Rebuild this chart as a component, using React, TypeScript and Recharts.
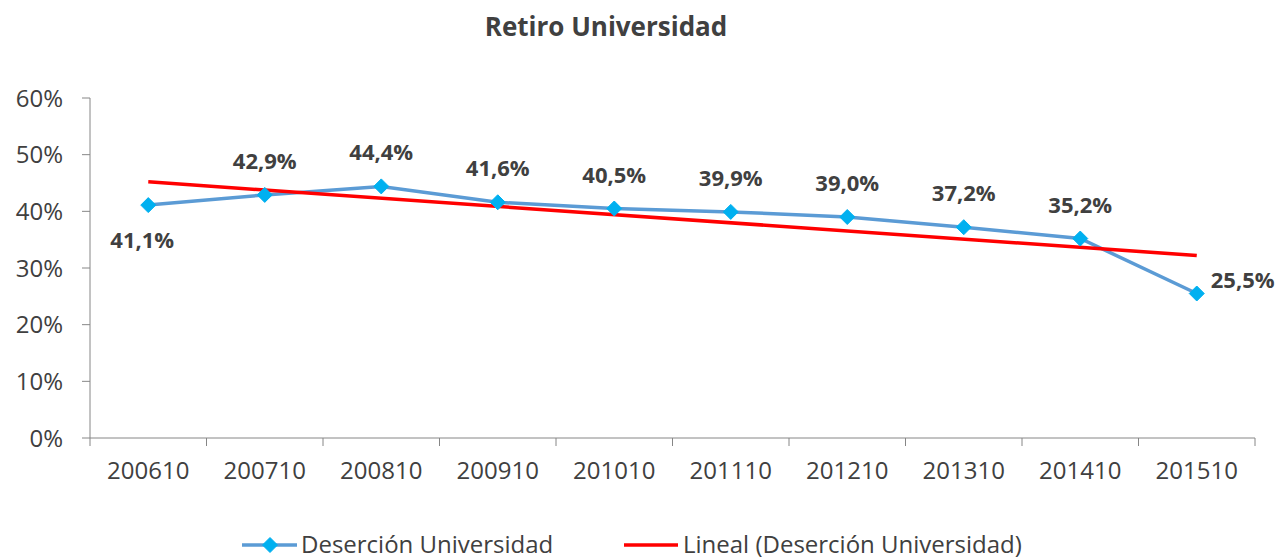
import React from 'react'
import { LineChart, Line, XAxis, YAxis, Legend, LabelList } from 'recharts'

const periods = ['200610', '200710', '200810', '200910', '201010', '201110', '201210', '201310', '201410', '201510']
const desercion = [41.1, 42.9, 44.4, 41.6, 40.5, 39.9, 39.0, 37.2, 35.2, 25.5]
// linear trend, read at its two ends (first and last period)
const trendStart = 45.2
const trendEnd = 32.2
const yTicks = [0, 10, 20, 30, 40, 50, 60]

const FONT = '"Open Sans", sans-serif'
const AXIS = '#868686'
const TEXT = '#404040'
const BLUE = '#5B9BD5'
const DIAMOND = '#00B0F0'
const RED = '#FF0000'

const data = periods.map((p, i) => ({
  period: p,
  desercion: desercion[i],
  trend: i === 0 ? trendStart : i === periods.length - 1 ? trendEnd : null,
}))

const fmt = (v: number) => `${v.toFixed(1).replace('.', ',')}%`

function Diamond(props: any) {
  const { cx, cy } = props
  if (cx == null || cy == null) return null
  const r = 7.5
  return (
    <polygon
      points={`${cx},${cy - r} ${cx + r},${cy} ${cx},${cy + r} ${cx - r},${cy}`}
      fill={DIAMOND}
      stroke={DIAMOND}
    />
  )
}

function XTick(props: any) {
  const { x, y, payload, index } = props
  const band = 116.5
  const last = index === periods.length - 1
  return (
    <g>
      <line x1={x - band / 2} y1={y} x2={x - band / 2} y2={y + 8} stroke={AXIS} />
      {last && <line x1={x + band / 2} y1={y} x2={x + band / 2} y2={y + 8} stroke={AXIS} />}
      <text x={x} y={y + 41} textAnchor="middle" fill={TEXT} fontSize={24} fontFamily={FONT}>
        {payload.value}
      </text>
    </g>
  )
}

function ValueLabel(props: any) {
  const { x, y, value, index } = props
  let tx = x
  let ty = y - 26
  let anchor: 'middle' | 'start' = 'middle'
  if (index === 0) {
    tx = x - 6
    ty = y + 43
  } else if (index === periods.length - 1) {
    tx = x + 14
    ty = y - 6
    anchor = 'start'
  }
  return (
    <text x={tx} y={ty} textAnchor={anchor} fill={TEXT} fontSize={22} fontWeight={700} fontFamily={FONT}>
      {fmt(value)}
    </text>
  )
}

function LegendContent() {
  return (
    <svg width={1281} height={40} style={{ display: 'block' }}>
      <line x1={242} y1={25} x2={297} y2={25} stroke={BLUE} strokeWidth={3.5} />
      <Diamond cx={270} cy={25} />
      <text x={301} y={33} fill={TEXT} fontSize={24} fontFamily={FONT}>
        Deserción Universidad
      </text>
      <line x1={624} y1={25} x2={678} y2={25} stroke={RED} strokeWidth={3.5} />
      <text x={683} y={33} fill={TEXT} fontSize={24} fontFamily={FONT}>
        Lineal (Deserción Universidad)
      </text>
    </svg>
  )
}

export default function App() {
  return (
    <div style={{ position: 'absolute', left: 0, top: 0, width: 1281, height: 560, background: '#fff' }}>
      <div
        style={{
          position: 'absolute',
          top: 8,
          left: 0,
          width: 1212,
          textAlign: 'center',
          fontFamily: FONT,
          fontWeight: 700,
          fontSize: 26,
          lineHeight: '36px',
          color: TEXT,
        }}
      >
        Retiro Universidad
      </div>
      <LineChart width={1281} height={560} data={data} margin={{ top: 98, right: 26, bottom: 0, left: 0 }}>
        <XAxis
          dataKey="period"
          scale="band"
          height={122}
          stroke={AXIS}
          tickLine={false}
          tickSize={0}
          tickMargin={0}
          interval={0}
          tick={<XTick />}
        />
        <YAxis
          domain={[0, 60]}
          ticks={yTicks}
          width={90}
          stroke={AXIS}
          tickSize={8}
          tickMargin={19}
          tickFormatter={(v: number) => `${v}%`}
          tick={{ fill: TEXT, fontSize: 24, fontFamily: FONT }}
        />
        <Legend
          layout="horizontal"
          verticalAlign="middle"
          align="center"
          wrapperStyle={{ top: 520, left: 0, width: 1281 }}
          content={<LegendContent />}
        />
        <Line
          dataKey="desercion"
          name="Deserción Universidad"
          type="linear"
          stroke={BLUE}
          strokeWidth={3.5}
          dot={<Diamond />}
          activeDot={false}
          isAnimationActive={false}
        >
          <LabelList dataKey="desercion" content={<ValueLabel />} />
        </Line>
        <Line
          dataKey="trend"
          name="Lineal (Deserción Universidad)"
          type="linear"
          stroke={RED}
          strokeWidth={3.5}
          dot={false}
          activeDot={false}
          connectNulls
          isAnimationActive={false}
        />
      </LineChart>
    </div>
  )
}
